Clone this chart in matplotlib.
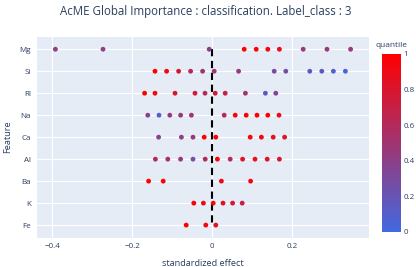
import matplotlib
matplotlib.use("Agg")
from matplotlib import pyplot as plt
from matplotlib.colors import LinearSegmentedColormap
import numpy as np

features = ["Mg", "Si", "RI", "Na", "Ca", "Al", "Ba", "K", "Fe"]

effects = [
    [-0.392, -0.273, -0.0075, 0.08, 0.11, 0.139, 0.168, 0.2275, 0.287, 0.346],
    [-0.143, -0.114, -0.084, -0.054, -0.024, 0.005, 0.066, 0.155, 0.184, 0.244, 0.274, 0.303, 0.333],
    [-0.169, -0.143, -0.093, -0.043, -0.018, 0.0075, 0.0325, 0.083, 0.133, 0.159],
    [-0.161, -0.133, -0.106, -0.079, -0.052, 0.03, 0.0575, 0.085, 0.112, 0.139, 0.167],
    [-0.134, -0.077, -0.048, -0.02, 0.009, 0.095, 0.123, 0.1525, 0.181],
    [-0.142, -0.111, -0.079, -0.048, -0.0175, 0.013, 0.045, 0.076, 0.107, 0.1375, 0.168],
    [-0.159, -0.1225, 0.023, 0.096],
    [-0.046, -0.022, 0.0025, 0.027, 0.051, 0.075],
    [-0.065, -0.016, 0.009],
]

quantiles = [
    [0.4, 0.4, 0.4, 1.0, 1.0, 0.95, 0.9, 0.45, 0.45, 0.45],
    [1.0, 0.95, 0.8, 0.6, 0.5, 0.5, 0.45, 0.3, 0.25, 0.15, 0.15, 0.1, 0.05],
    [1.0, 0.95, 0.8, 0.75, 0.6, 0.75, 0.7, 0.5, 0.15, 0.35],
    [0.4, 0.1, 0.45, 0.45, 0.5, 0.6, 1.0, 1.0, 1.0, 1.0, 0.9],
    [0.35, 0.4, 0.45, 1.0, 1.0, 0.95, 0.95, 0.85, 0.8],
    [0.6, 0.55, 0.45, 0.25, 0.6, 1.0, 0.6, 0.85, 0.85, 0.85, 0.8],
    [1.0, 1.0, 0.9, 0.95],
    [1.0, 0.9, 0.9, 0.85, 0.75, 0.7],
    [1.0, 0.95, 0.85],
]

xticks = [-0.4, -0.2, 0, 0.2]
cbar_ticks = [0, 0.2, 0.4, 0.6, 0.8, 1]

plt.rcParams['font.family'] = ['Open Sans', 'DejaVu Sans']
txt = "#2a3f5f"
cmap = LinearSegmentedColormap.from_list("q", ["#4169e1", "#ff0000"])

fig = plt.figure(figsize=(4.16, 2.67), dpi=100)
ax = fig.add_axes([0.088, 0.11, 0.799, 0.7525])
ax.set_facecolor("#e5ecf6")

for i, (f, xs, qs) in enumerate(zip(features, effects, quantiles)):
    sc = ax.scatter(xs, [i] * len(xs), c=qs, cmap=cmap, vmin=0, vmax=1,
                    s=12, linewidths=0, zorder=3)

ax.plot([0, 0], [0, len(features) - 1], color="black", lw=1.5,
        dashes=(3.5, 2.2), zorder=2)

ax.set_yticks(range(len(features)))
ax.set_yticklabels(features)
ax.set_ylim(len(features) - 1 + 0.57, -0.57)
ax.set_xticks(xticks)
ax.set_xticklabels(["\u22120.4", "\u22120.2", "0", "0.2"])
ax.set_xlim(-0.439, 0.392)
ax.grid(color="white", lw=0.8, zorder=0)
ax.set_axisbelow(True)
for s in ax.spines.values():
    s.set_visible(False)
ax.tick_params(length=0, labelsize=5.8, colors=txt, pad=4)
ax.set_xlabel("standardized effect", fontsize=6.6, color=txt, labelpad=6)
ax.set_ylabel("Feature", fontsize=6.6, color=txt, labelpad=5)

fig.text(0.495, 0.958, "AcME Global Importance : classification. Label_class : 3",
         ha="center", va="center", fontsize=8.3, color=txt)

cax = fig.add_axes([0.918, 0.132, 0.0457, 0.666])
cb = fig.colorbar(sc, cax=cax, ticks=cbar_ticks)
cb.outline.set_visible(False)
cb.ax.tick_params(length=0, labelsize=5.8, colors=txt, pad=2)
cb.ax.set_yticklabels(["0", "0.2", "0.4", "0.6", "0.8", "1"])
fig.text(0.94, 0.828, "quantile", ha="center", va="center", fontsize=6, color=txt)

fig.savefig("out.png", dpi=100)
